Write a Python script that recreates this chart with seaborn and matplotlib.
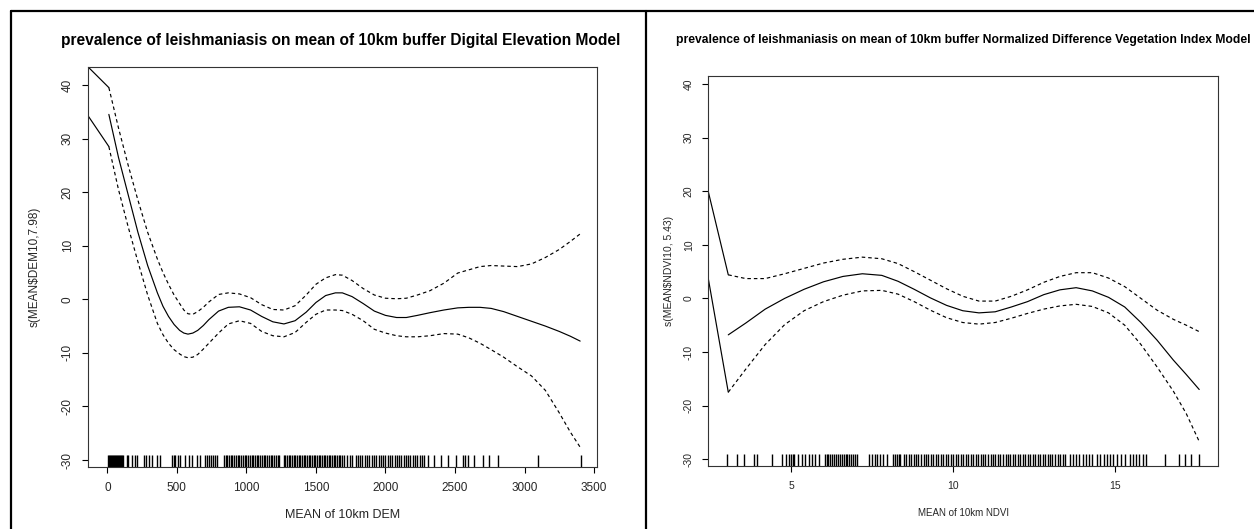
import matplotlib
matplotlib.use("Agg")
import matplotlib.pyplot as plt
from matplotlib.lines import Line2D
import seaborn as sns
import pandas as pd

# ---------------- data: left panel (DEM) ----------------
dem_x = [11, 80, 150, 220, 290, 360, 400, 440, 480, 520, 550, 580, 615, 650, 690, 730,
         800, 870, 950, 1030, 1110, 1190, 1270, 1350, 1430, 1500, 1570, 1640, 1690,
         1760, 1840, 1920, 2000, 2080, 2150, 2230, 2320, 2420, 2520, 2600, 2680, 2760,
         2850, 2950, 3050, 3150, 3250, 3330, 3400]
dem_fit = [34.5, 26.5, 19.5, 12.5, 6.3, 1.2, -1.3, -3.2, -4.7, -5.8, -6.3, -6.5, -6.3,
           -5.8, -4.9, -3.8, -2.2, -1.5, -1.4, -2.0, -3.2, -4.2, -4.6, -4.0, -2.4,
           -0.6, 0.7, 1.2, 1.2, 0.5, -0.8, -2.2, -3.0, -3.4, -3.4, -3.0, -2.5, -2.0,
           -1.6, -1.5, -1.5, -1.7, -2.3, -3.2, -4.1, -5.0, -6.0, -6.9, -7.8]
dem_upper = [39.5, 32.0, 25.0, 18.5, 12.5, 7.5, 5.0, 2.8, 0.8, -0.8, -2.0, -2.7, -2.8,
             -2.3, -1.5, -0.5, 0.9, 1.2, 1.0, 0.3, -1.0, -1.9, -2.0, -1.2, 0.8, 2.8,
             4.0, 4.6, 4.5, 3.5, 2.0, 0.8, 0.2, 0.1, 0.2, 0.8, 1.6, 3.0, 4.9, 5.5, 6.1,
             6.3, 6.2, 6.1, 6.6, 7.8, 9.3, 10.8, 12.2]
dem_lower = [28.5, 20.5, 13.5, 7.0, 0.8, -4.5, -6.6, -8.2, -9.4, -10.2, -10.7, -10.9,
             -10.8, -10.3, -9.3, -8.2, -6.3, -4.6, -4.0, -4.5, -6.0, -6.8, -7.0, -6.2,
             -4.3, -2.8, -2.0, -2.0, -2.1, -2.8, -4.0, -5.6, -6.3, -6.8, -7.0, -7.0,
             -6.8, -6.4, -6.5, -7.2, -8.2, -9.4, -10.8, -12.6, -14.3, -17.0, -21.2,
             -24.8, -27.6]
dem_edge_x = [-140, 11]
dem_edge_up = [43.4, 39.5]
dem_edge_lo = [34.3, 28.5]
dem_rug = [3, 10, 18, 25, 33, 40, 48, 55, 62, 70, 78, 85, 93, 100, 108, 115, 140, 150,
           175, 200, 212, 262, 280, 300, 320, 356, 380, 465, 478, 490, 505, 520, 560,
           584, 608, 645, 669, 705, 715, 730, 745, 760, 775, 789, 837, 850, 862, 875,
           887, 900, 912, 925, 937, 950, 962, 975, 987, 1000, 1012, 1025, 1037, 1050,
           1062, 1075, 1087, 1100, 1112, 1125, 1137, 1150, 1162, 1175, 1187, 1200,
           1212, 1225, 1237, 1269, 1280, 1292, 1304, 1316, 1328, 1340, 1352, 1364,
           1376, 1388, 1400, 1412, 1424, 1436, 1448, 1460, 1472, 1484, 1496, 1508,
           1520, 1532, 1544, 1556, 1568, 1580, 1592, 1604, 1616, 1628, 1640, 1652,
           1664, 1676, 1688, 1700, 1726, 1745, 1760, 1785, 1800, 1815, 1830, 1850,
           1865, 1880, 1900, 1915, 1935, 1950, 1965, 1980, 2000, 2015, 2030, 2050,
           2065, 2080, 2100, 2115, 2130, 2150, 2165, 2180, 2200, 2215, 2230, 2250,
           2265, 2279, 2303, 2351, 2399, 2447, 2508, 2556, 2570, 2592, 2640, 2700,
           2748, 2808, 3100, 3404]
dem_xticks = [0, 500, 1000, 1500, 2000, 2500, 3000, 3500]

# ---------------- data: right panel (NDVI) ----------------
ndvi_x = [3.06, 3.6, 4.2, 4.8, 5.4, 6.0, 6.6, 7.2, 7.8, 8.3, 8.8, 9.3, 9.8, 10.3, 10.8,
          11.3, 11.8, 12.3, 12.8, 13.3, 13.8, 14.3, 14.8, 15.3, 15.8, 16.3, 16.8, 17.2,
          17.6]
ndvi_fit = [-6.8, -4.6, -2.0, 0.0, 1.7, 3.1, 4.1, 4.6, 4.3, 3.2, 1.7, 0.1, -1.3, -2.3,
            -2.7, -2.5, -1.6, -0.6, 0.7, 1.6, 2.0, 1.4, 0.2, -1.6, -4.5, -7.8, -11.5,
            -14.2, -17.0]
ndvi_upper = [4.4, 3.7, 3.7, 4.6, 5.6, 6.6, 7.3, 7.7, 7.4, 6.5, 5.0, 3.4, 1.8, 0.4,
              -0.5, -0.5, 0.4, 1.6, 3.0, 4.1, 4.8, 4.8, 3.8, 2.2, 0.0, -2.2, -3.9, -5.0,
              -6.2]
ndvi_lower = [-17.5, -13.2, -8.6, -4.9, -2.3, -0.6, 0.6, 1.4, 1.5, 0.8, -0.6, -2.2,
              -3.6, -4.5, -4.8, -4.5, -3.7, -2.8, -2.0, -1.4, -1.1, -1.5, -2.7, -5.0,
              -8.6, -12.8, -17.3, -21.5, -26.7]
ndvi_edge_x = [2.44, 3.06]
ndvi_edge_up = [20.0, 4.4]
ndvi_edge_lo = [3.8, -17.5]
ndvi_rug = [3.02, 3.34, 3.55, 3.86, 3.96, 4.40, 4.71, 4.85, 4.95, 5.00, 5.05, 5.10,
            5.20, 5.33, 5.43, 5.54, 5.64, 5.74, 5.85, 6.05, 6.10, 6.15, 6.20, 6.26,
            6.33, 6.40, 6.45, 6.50, 6.56, 6.62, 6.68, 6.74, 6.80, 6.86, 6.92, 6.98,
            7.03, 7.40, 7.50, 7.58, 7.66, 7.75, 7.85, 7.95, 8.16, 8.22, 8.27, 8.32,
            8.37, 8.47, 8.55, 8.63, 8.70, 8.78, 8.86, 8.93, 9.01, 9.09, 9.16, 9.24,
            9.32, 9.39, 9.47, 9.55, 9.62, 9.70, 9.78, 9.85, 9.93, 10.01, 10.08, 10.16,
            10.24, 10.31, 10.39, 10.47, 10.54, 10.62, 10.70, 10.77, 10.85, 10.93,
            11.00, 11.08, 11.16, 11.23, 11.31, 11.39, 11.46, 11.54, 11.62, 11.69,
            11.77, 11.85, 11.92, 12.00, 12.08, 12.15, 12.23, 12.31, 12.38, 12.46,
            12.54, 12.61, 12.69, 12.77, 12.84, 12.92, 13.00, 13.07, 13.15, 13.23,
            13.30, 13.38, 13.46, 13.60, 13.70, 13.80, 13.90, 14.00, 14.10, 14.20,
            14.30, 14.45, 14.55, 14.65, 14.75, 14.85, 14.95, 15.06, 15.20, 15.30,
            15.45, 15.55, 15.65, 15.75, 15.85, 15.95, 16.54, 16.98, 17.16, 17.35, 17.60]
ndvi_xticks = [5, 10, 15]

yticks = [-30, -20, -10, 0, 10, 20, 30, 40]

# ---------------- style ----------------
sns.set_theme(style="white")
plt.rcParams["font.family"] = ["Liberation Sans", "DejaVu Sans"]
FAM = ["Liberation Sans", "DejaVu Sans"]

W, H = 1254, 529
fig = plt.figure(figsize=(W / 100, H / 100), dpi=100)
fig.patch.set_facecolor("white")


def px_axes(x0, y0, x1, y1):
    return fig.add_axes([x0 / W, 1 - y1 / H, (x1 - x0) / W, (y1 - y0) / H])


def draw_panel(ax, xs, fit, up, lo, ex, eup, elo, rug, xlim, ylim, xticks,
               title, xlabel, ylabel, tfs, tickfs, xlfs, ylfs, title_xy, xl_y, yl_x):
    d = pd.DataFrame({"x": xs, "fit": fit, "up": up, "lo": lo})
    e = pd.DataFrame({"x": ex, "up": eup, "lo": elo})
    lw = 0.85
    dash = (0, (3, 2.5))
    sns.lineplot(data=d, x="x", y="fit", ax=ax, color="black", lw=lw,
                 estimator=None, sort=False)
    sns.lineplot(data=d, x="x", y="up", ax=ax, color="black", lw=lw,
                 linestyle=dash, estimator=None, sort=False)
    sns.lineplot(data=d, x="x", y="lo", ax=ax, color="black", lw=lw,
                 linestyle=dash, estimator=None, sort=False)
    sns.lineplot(data=e, x="x", y="up", ax=ax, color="black", lw=lw,
                 estimator=None, sort=False)
    sns.lineplot(data=e, x="x", y="lo", ax=ax, color="black", lw=lw,
                 estimator=None, sort=False)
    sns.rugplot(x=rug, ax=ax, height=0.03, color="black", lw=0.7, expand_margins=False)
    ax.set_xlim(*xlim)
    ax.set_ylim(*ylim)
    ax.set_xticks(xticks)
    ax.set_yticks(yticks)
    ax.set_xticklabels([str(t) for t in xticks], family=FAM, fontsize=tickfs)
    ax.set_yticklabels([str(t) for t in yticks], family=FAM, fontsize=tickfs,
                       rotation=90, va="center")
    ax.tick_params(axis="both", direction="out", length=4.3, width=0.8,
                   color="black", bottom=True, left=True)
    ax.tick_params(axis="x", pad=7)
    ax.tick_params(axis="y", pad=6)
    for s in ax.spines.values():
        s.set_visible(True)
        s.set_color("#333333")
        s.set_linewidth(0.8)
    ax.set_xlabel(xlabel, family=FAM, fontsize=xlfs)
    ax.set_ylabel(ylabel, family=FAM, fontsize=ylfs)
    ax.xaxis.label.set_va("center")
    ax.yaxis.label.set_va("center")
    bb = ax.get_position()
    ax.xaxis.set_label_coords(0.5, ((H - xl_y) / H - bb.y0) / bb.height)
    ax.yaxis.set_label_coords((yl_x / W - bb.x0) / bb.width, 0.5)
    ax.grid(False)
    fig.text(title_xy[0] / W, 1 - title_xy[1] / H, title, ha="center", va="center",
             fontsize=tfs, fontweight="bold", family=FAM, color="black")


ax1 = px_axes(88, 66.7, 597.4, 466.5)
draw_panel(ax1, dem_x, dem_fit, dem_upper, dem_lower, dem_edge_x, dem_edge_up,
           dem_edge_lo, dem_rug, (-139, 3524), (-31.2, 43.4), dem_xticks,
           "prevalence of leishmaniasis on mean of 10km buffer Digital Elevation Model",
           "MEAN of 10km DEM", "s(MEAN$DEM10,7.98)",
           11.2, 8.5, 9, 8.5, (341, 41), 515, 35)

ax2 = px_axes(708.2, 75.7, 1218, 465.6)
draw_panel(ax2, ndvi_x, ndvi_fit, ndvi_upper, ndvi_lower, ndvi_edge_x, ndvi_edge_up,
           ndvi_edge_lo, ndvi_rug, (2.44, 18.18), (-31.2, 41.56), ndvi_xticks,
           "prevalence of leishmaniasis on mean of 10km buffer Normalized Difference Vegetation Index Model",
           "MEAN of 10km NDVI", "s(MEAN$NDVI10, 5.43)",
           8.7, 7.5, 7, 7.5, (963, 40), 513, 669)

# outer table-like frame lines
lwb = 1.6
fig.add_artist(Line2D([11 / W, 1.0], [1 - 11 / H, 1 - 11 / H], color="black", lw=lwb,
                      transform=fig.transFigure))
fig.add_artist(Line2D([11 / W, 11 / W], [0, 1 - 11 / H], color="black", lw=lwb,
                      transform=fig.transFigure))
fig.add_artist(Line2D([646 / W, 646 / W], [0, 1 - 11 / H], color="black", lw=lwb,
                      transform=fig.transFigure))

fig.savefig("out.png", dpi=100, facecolor="white")
